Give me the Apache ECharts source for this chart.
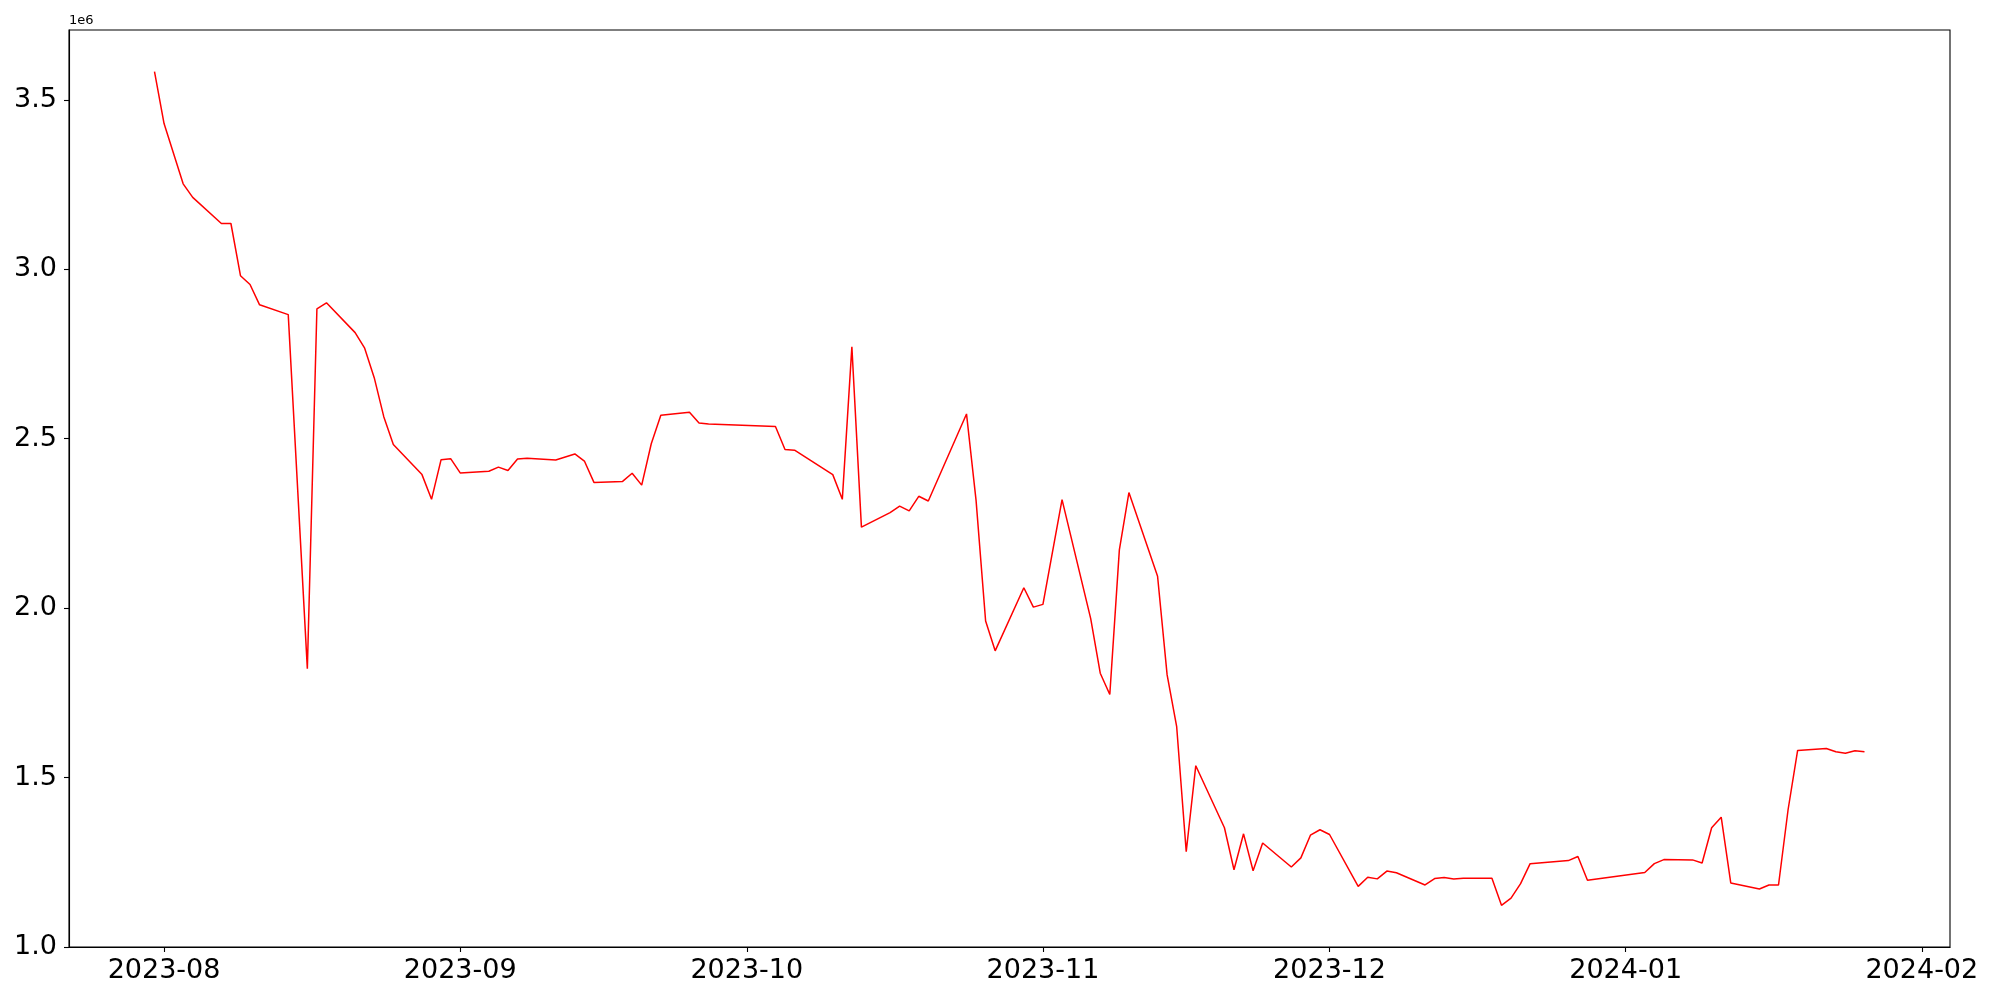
<!DOCTYPE html>
<html>
<head>
<meta charset="utf-8">
<script src="https://cdn.jsdelivr.net/npm/echarts@6/dist/echarts.min.js"></script>
<style>
html,body{margin:0;padding:0;background:#fff;}
#c{width:2000px;height:1000px;}
</style>
</head>
<body>
<div id="c"></div>
<script>
const dates = [
'2023-07-31','2023-08-01','2023-08-03','2023-08-04','2023-08-07','2023-08-08','2023-08-09','2023-08-10','2023-08-11','2023-08-14',
'2023-08-16','2023-08-17','2023-08-18','2023-08-21','2023-08-22','2023-08-23','2023-08-24','2023-08-25','2023-08-28','2023-08-29',
'2023-08-30','2023-08-31','2023-09-01','2023-09-04','2023-09-05','2023-09-06','2023-09-07','2023-09-08','2023-09-11','2023-09-13',
'2023-09-14','2023-09-15','2023-09-18','2023-09-19','2023-09-20','2023-09-21','2023-09-22','2023-09-25','2023-09-26','2023-09-27',
'2023-10-04','2023-10-05','2023-10-06','2023-10-10','2023-10-11','2023-10-12','2023-10-13','2023-10-16','2023-10-17','2023-10-18',
'2023-10-19','2023-10-20','2023-10-24','2023-10-25','2023-10-26','2023-10-27','2023-10-30','2023-10-31','2023-11-01','2023-11-03',
'2023-11-06','2023-11-07','2023-11-08','2023-11-09','2023-11-10','2023-11-13','2023-11-14','2023-11-15','2023-11-16','2023-11-17',
'2023-11-20','2023-11-21','2023-11-22','2023-11-23','2023-11-24','2023-11-27','2023-11-28','2023-11-29','2023-11-30','2023-12-01',
'2023-12-04','2023-12-05','2023-12-06','2023-12-07','2023-12-08','2023-12-11','2023-12-12','2023-12-13','2023-12-14','2023-12-15',
'2023-12-18','2023-12-19','2023-12-20','2023-12-21','2023-12-22','2023-12-26','2023-12-27','2023-12-28','2024-01-03','2024-01-04',
'2024-01-05','2024-01-08','2024-01-09','2024-01-10','2024-01-11','2024-01-12','2024-01-15','2024-01-16','2024-01-17','2024-01-18',
'2024-01-19','2024-01-22','2024-01-23','2024-01-24','2024-01-25','2024-01-26'
];
const values = [
3583000,3430000,3252000,3212000,3135000,3135000,2981000,2955000,2895000,2866000,
1821000,2883000,2901000,2813000,2767000,2680000,2565000,2483000,2394000,2321000,
2438000,2441000,2399000,2404000,2416000,2406000,2440000,2442000,2437000,2455000,
2434000,2371000,2374000,2398000,2363000,2485000,2569000,2578000,2546000,2543000,
2536000,2468000,2466000,2394000,2321000,2771000,2239000,2282000,2301000,2287000,
2330000,2316000,2573000,2318000,1962000,1874000,2060000,2003000,2011000,2320000,
1969000,1808000,1745000,2172000,2341000,2094000,1803000,1650000,1281000,1535000,
1352000,1228000,1334000,1225000,1307000,1236000,1263000,1330000,1346000,1332000,
1179000,1206000,1201000,1224000,1219000,1183000,1202000,1205000,1201000,1203000,
1203000,1123000,1144000,1187000,1246000,1255000,1267000,1197000,1220000,1246000,
1258000,1257000,1248000,1352000,1383000,1189000,1171000,1183000,1183000,1405000,
1580000,1586000,1576000,1572000,1579000,1576000
];
const yTickStep = 500000;
const yMin = 1000000;

const DAY = 86400000;
const ts = dates.map(d => Date.parse(d + 'T00:00:00'));
const t0 = ts[0], t1 = ts[ts.length - 1];
const xPad = (t1 - t0) * 0.05;
const vMax = Math.max.apply(null, values), vMin = Math.min.apply(null, values);
const yMax = vMax + (vMax - vMin) * 0.05;

const chart = echarts.init(document.getElementById('c'), null, {renderer: 'canvas'});
const font = 'DejaVu Sans';
chart.setOption({
  animation: false,
  backgroundColor: '#ffffff',
  grid: {left: 69, right: 50, top: 30, bottom: 53, show: true, borderColor: '#000', borderWidth: 1.1, backgroundColor: 'transparent'},
  xAxis: {
    type: 'time',
    min: t0 - xPad,
    max: t1 + xPad,
    minInterval: 28 * DAY,
    splitLine: {show: false},
    axisLine: {lineStyle: {color: '#000', width: 1.1}},
    axisTick: {show: true, length: 5, lineStyle: {color: '#000', width: 1.1}},
    axisLabel: {
      color: '#000', fontSize: 27, fontFamily: font, margin: 10,
      showMinLabel: false, showMaxLabel: false,
      formatter: function (v) {
        const d = new Date(v);
        return d.getFullYear() + '-' + String(d.getMonth() + 1).padStart(2, '0');
      }
    }
  },
  yAxis: {
    type: 'value',
    min: yMin,
    max: yMax,
    interval: yTickStep,
    splitLine: {show: false},
    axisLine: {show: true, lineStyle: {color: '#000', width: 1.1}},
    axisTick: {show: true, length: 5, lineStyle: {color: '#000', width: 1.1}},
    axisLabel: {
      color: '#000', fontSize: 27, fontFamily: font, margin: 12,
      showMaxLabel: false,
      formatter: function (v) { return (v / 1e6).toFixed(1); }
    }
  },
  graphic: [{
    type: 'text', left: 69, top: 14,
    style: {text: '1e6', fontSize: 13, fontFamily: font, fill: '#000'}
  }],
  series: [{
    type: 'line',
    data: ts.map((t, i) => [t, values[i]]),
    showSymbol: false,
    lineStyle: {color: '#ff0000', width: 1.5},
    itemStyle: {color: '#ff0000'}
  }]
});
</script>
</body>
</html>
